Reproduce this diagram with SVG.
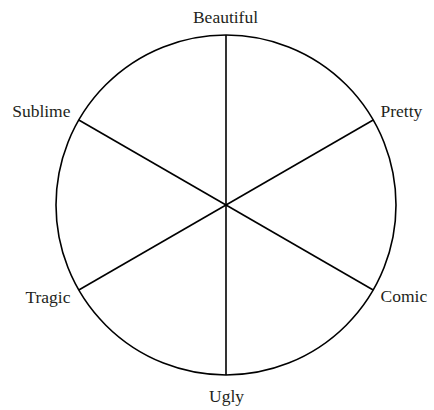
<svg xmlns="http://www.w3.org/2000/svg" width="434" height="410" viewBox="0 0 434 410">
<style>
.l{fill:none;stroke:#000;stroke-width:1.6}
text{font-family:"Liberation Serif","DejaVu Serif",serif;font-size:17.5px;fill:#231f20}
</style>
<rect width="434" height="410" fill="#fff"/>
<g id="connectors">
<line class="l" x1="226" y1="35" x2="226" y2="375"/>
<line class="l" x1="78.8" y1="120" x2="373.2" y2="290"/>
<line class="l" x1="78.8" y1="290" x2="373.2" y2="120"/>
</g>
<g id="wheel"><circle class="l" cx="226" cy="205" r="170"/></g>
<g id="beautiful"><text x="225.5" y="23" text-anchor="middle">Beautiful</text></g>
<g id="pretty"><text x="380.5" y="117">Pretty</text></g>
<g id="comic"><text x="380.5" y="302">Comic</text></g>
<g id="ugly"><text x="226.5" y="402" text-anchor="middle">Ugly</text></g>
<g id="tragic"><text x="70.5" y="303" text-anchor="end">Tragic</text></g>
<g id="sublime"><text x="70.5" y="117" text-anchor="end">Sublime</text></g>
</svg>
